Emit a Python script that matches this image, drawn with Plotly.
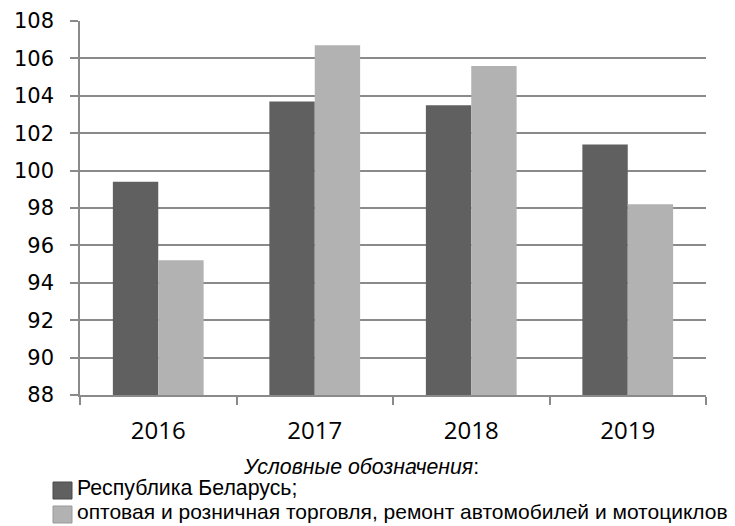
import plotly.graph_objects as go

years = ["2016", "2017", "2018", "2019"]
belarus = [99.4, 103.7, 103.5, 101.4]
trade = [95.2, 106.7, 105.6, 98.2]
series_names = ["Республика Беларусь;",
                "оптовая и розничная торговля, ремонт автомобилей и мотоциклов"]
legend_title = "<i>Условные обозначения</i>:"
y_ticks = list(range(88, 109, 2))

# page is drawn with an 8px body margin; coordinates below are page pixels
OFF = 8
W, H = 735, 526
L, R, T, B = 72, 37, 13, 139
PW, PH = W - L - R, H - T - B

def px(x):
    return (x - OFF - L) / PW

def py(y):
    return (H - B - (y - OFF)) / PH

dark = "#606060"
light = "#b2b2b2"
grid = "#8a8a8a"

fig = go.Figure()
fig.add_trace(go.Bar(x=years, y=belarus, name=series_names[0],
                     marker=dict(color=dark, line=dict(width=0))))
fig.add_trace(go.Bar(x=years, y=trade, name=series_names[1],
                     marker=dict(color=light, line=dict(width=0))))

fig.update_layout(
    width=W, height=H,
    margin=dict(l=L, r=R, t=T, b=B, pad=0, autoexpand=False),
    paper_bgcolor="white", plot_bgcolor="white",
    barmode="group", bargap=0.42, bargroupgap=0,
    showlegend=False,
    xaxis=dict(type="category", automargin=False, showgrid=False, showline=True,
               linecolor=grid, linewidth=1.5, ticks="outside",
               tickson="boundaries", ticklen=8, tickcolor=grid, tickwidth=1.5,
               ticklabelstandoff=13,
               tickfont=dict(family="Open Sans", size=24, color="#000")),
    yaxis=dict(range=[88, 108], tickvals=y_ticks, automargin=False,
               showgrid=True, gridcolor=grid, gridwidth=1.5, showline=True,
               linecolor=grid, linewidth=1.5, ticks="outside", ticklen=8,
               tickcolor=grid, tickwidth=1.5, ticklabelstandoff=12,
               zeroline=False,
               tickfont=dict(family="DejaVu Sans", size=21, color="#000")),
)

# legend block
fig.add_annotation(x=px(361), y=py(467), xref="paper", yref="paper",
                   text=legend_title, showarrow=False, xanchor="center",
                   yanchor="middle",
                   font=dict(family="Liberation Sans", size=21.3, color="#000"))
rows = [(482, 499, 488, dark, "#4a4a4a", 21.3), (506, 523, 512, light, "#9a9a9a", 21)]
for (y0, y1, yc, c, lc, fs), name in zip(rows, series_names):
    fig.add_shape(type="rect", xref="paper", yref="paper",
                  x0=px(53), x1=px(72), y0=py(y1), y1=py(y0),
                  fillcolor=c, line=dict(color=lc, width=1))
    fig.add_annotation(x=px(75), y=py(yc), xref="paper", yref="paper",
                       text=name, showarrow=False, xanchor="left",
                       yanchor="middle",
                       font=dict(family="Liberation Sans", size=fs, color="#000"))

fig.write_html("out.html")
